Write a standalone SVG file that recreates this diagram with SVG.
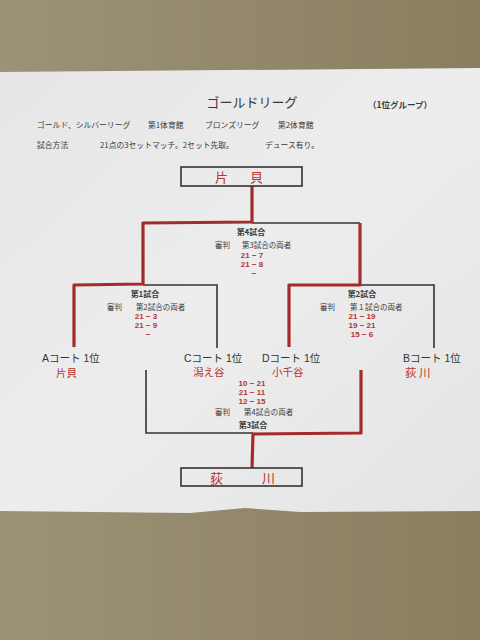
<svg xmlns="http://www.w3.org/2000/svg" width="480" height="640" viewBox="0 0 480 640">
<defs>
<linearGradient id="bg" x1="0" y1="0" x2="1" y2="0">
<stop offset="0" stop-color="#9c9277"/><stop offset="1" stop-color="#8a7e60"/>
</linearGradient>
<linearGradient id="paper" x1="0" y1="0" x2="1" y2="1">
<stop offset="0" stop-color="#e6e6e6"/><stop offset="0.5" stop-color="#ededed"/><stop offset="1" stop-color="#e4e4e4"/>
</linearGradient>
<style>
.t{font-family:"Noto Sans CJK JP","Noto Sans",sans-serif;fill:#3a3a3a}
.lb{font-family:"Liberation Sans","Noto Sans CJK JP",sans-serif;fill:#333;font-size:10.5px}
.h{font-family:"Noto Sans CJK JP","Noto Sans",sans-serif;fill:#b83232}
.s{font-family:"Liberation Sans",Arial,sans-serif;fill:#b83232;font-size:8px;font-weight:bold;text-anchor:middle}
.bl{stroke:#333;stroke-width:1.6;fill:none}
.rd{stroke:#a52a2a;stroke-width:3.2;fill:none;stroke-linejoin:round}
.box{fill:none;stroke:#333;stroke-width:1.6}
</style>
</defs>
<rect width="480" height="640" fill="url(#bg)"/>
<path d="M0,72 L480,68 L480,511 L300,512 L245,508 L190,513 L0,511 Z" fill="url(#paper)"/>

<g id="header">
<text class="t" x="252" y="107" font-size="13" text-anchor="middle">ゴールドリーグ</text>
<text class="t" x="368" y="108" font-size="8.5" font-weight="bold">（1位グループ）</text>
<text class="t" x="37" y="128" font-size="7.8">ゴールド、シルバーリーグ</text>
<text class="t" x="148" y="128" font-size="7.8">第1体育館</text>
<text class="t" x="205" y="128" font-size="7.8">ブロンズリーグ</text>
<text class="t" x="278" y="128" font-size="7.8">第2体育館</text>
<text class="t" x="37" y="148" font-size="7.8">試合方法</text>
<text class="t" x="100" y="148" font-size="7.8">21点の3セットマッチ。2セット先取。</text>
<text class="t" x="265" y="148" font-size="7.8">デュース有り。</text>
</g>

<g id="connectors">
<path class="bl" d="M252,223 L360,223"/>
<path class="bl" d="M143,285 L217,285 L217,348"/>
<path class="bl" d="M360,285 L434,285 L434,348"/>
<path class="bl" d="M146,370 L146,433 L253,433"/>
<path class="rd" d="M74,347 L74,285 L143,284 L143,223 L252,222 L252,186"/>
<path class="rd" d="M289,347 L289,285 L360,285 L360,223"/>
<path class="rd" d="M361,370 L361,433 L253,434 L252,468"/>
</g>

<g id="winner-top">
<rect class="box" x="181" y="167" width="121" height="19"/>
<text class="h" x="215" y="182" font-size="13">片</text>
<text class="h" x="250" y="182" font-size="13">貝</text>
</g>

<g id="game4">
<text class="t" x="251" y="235" font-size="8" font-weight="bold" text-anchor="middle">第4試合</text>
<text class="t" x="215" y="248" font-size="7.5">審判</text>
<text class="t" x="242" y="248" font-size="7.5">第3試合の両者</text>
<text class="s" x="252" y="258">21 −  7</text>
<text class="s" x="252" y="267">21 −  8</text>
<text class="s" x="254" y="276">−</text>
</g>

<g id="game1">
<text class="t" x="145" y="297" font-size="8" font-weight="bold" text-anchor="middle">第1試合</text>
<text class="t" x="107" y="310" font-size="7.5">審判</text>
<text class="t" x="136" y="310" font-size="7.5">第2試合の両者</text>
<text class="s" x="146" y="319">21 − 3</text>
<text class="s" x="146" y="328">21 − 9</text>
<text class="s" x="148" y="337">−</text>
</g>

<g id="game2">
<text class="t" x="362" y="297" font-size="8" font-weight="bold" text-anchor="middle">第2試合</text>
<text class="t" x="320" y="310" font-size="7.5">審判</text>
<text class="t" x="350" y="310" font-size="7.5">第１試合の両者</text>
<text class="s" x="362" y="319">21 − 19</text>
<text class="s" x="362" y="328">19 − 21</text>
<text class="s" x="362" y="337">15 −  6</text>
</g>

<g id="team-a">
<text class="lb" x="42" y="362">Aコート 1位</text>
<text class="h" x="56" y="377" font-size="10.5">片貝</text>
</g>
<g id="team-c">
<text class="lb" x="184" y="362">Cコート 1位</text>
<text class="h" x="193" y="376" font-size="10.5">潟え谷</text>
</g>
<g id="team-d">
<text class="lb" x="262" y="362">Dコート 1位</text>
<text class="h" x="272" y="376" font-size="10.5">小千谷</text>
</g>
<g id="team-b">
<text class="lb" x="403" y="362">Bコート 1位</text>
<text class="h" x="405" y="377" font-size="11.5">荻 川</text>
</g>

<g id="game3">
<text class="s" x="252" y="386">10 − 21</text>
<text class="s" x="252" y="395">21 − 11</text>
<text class="s" x="252" y="404">12 − 15</text>
<text class="t" x="215" y="415" font-size="7.5">審判</text>
<text class="t" x="244" y="415" font-size="7.5">第4試合の両者</text>
<text class="t" x="253" y="428" font-size="8" font-weight="bold" text-anchor="middle">第3試合</text>
</g>

<g id="winner-bottom">
<rect class="box" x="181" y="468" width="121" height="18"/>
<text class="h" x="210" y="483" font-size="13">荻</text>
<text class="h" x="262" y="483" font-size="13">川</text>
</g>
</svg>
